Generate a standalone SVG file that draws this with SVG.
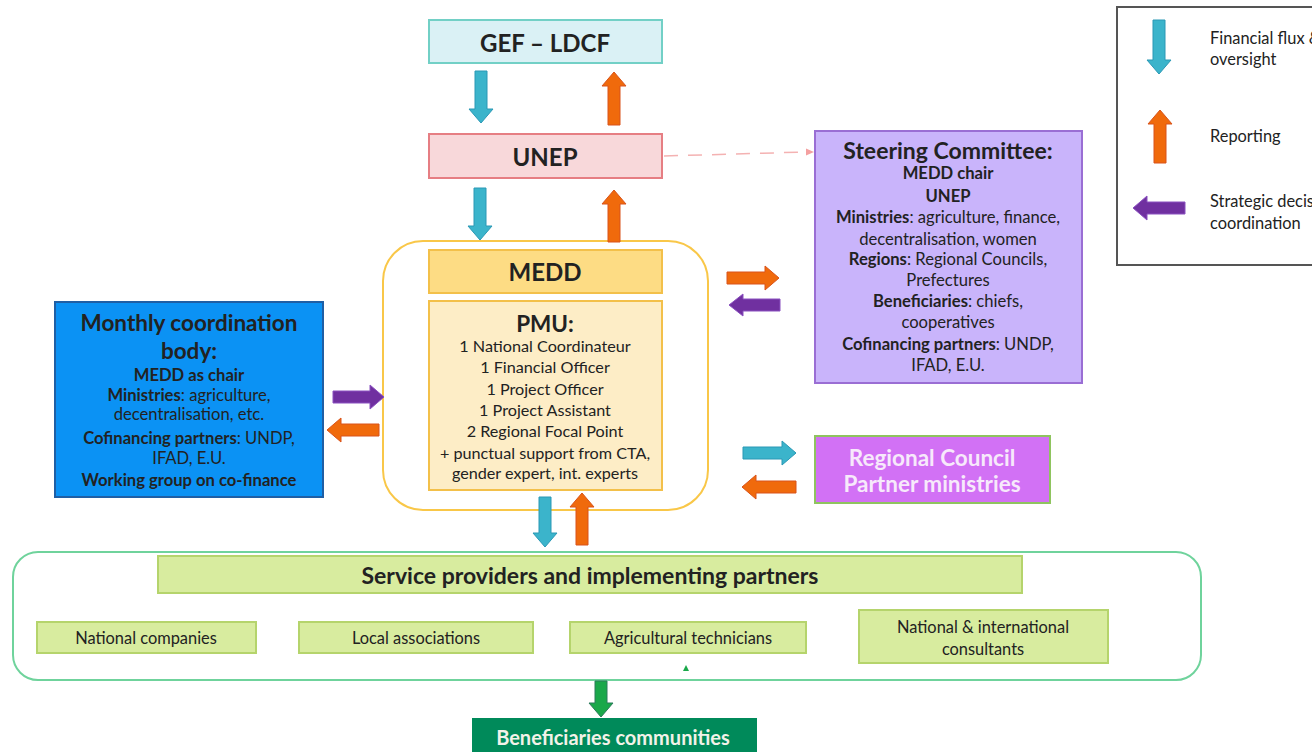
<svg xmlns="http://www.w3.org/2000/svg" width="1312" height="752" viewBox="0 0 1312 752">
<style>
text{font-family:Lato,"Liberation Sans",Arial,sans-serif;fill:#222;text-anchor:middle;dominant-baseline:central}
.b{font-weight:bold}
.h{font-size:24px;font-weight:bold}
.t22{font-size:22.5px;font-weight:bold}
.body{font-size:16.6px}
.pmu{font-size:16.2px}
.sm{font-size:16.4px}
.lg{font-size:16.4px;text-anchor:start}
.blue{fill:#3bb4cb;stroke:#2a98b5;stroke-width:1}
.orange{fill:#f06a0c;stroke:#d9531a;stroke-width:1}
.purple{fill:#7030a0;stroke:#8a50c0;stroke-width:1}
.green{fill:#1aa84a;stroke:#2a7a5a;stroke-width:1}
.sp{fill:#d8ec9f;stroke:#b5d46c;stroke-width:2}
</style>
<rect width="1312" height="752" fill="#ffffff"/>

<g id="legend">
<rect x="1117" y="7" width="210" height="258" fill="#ffffff" stroke="#555555" stroke-width="2"/>
<polygon class="blue" points="1153,20 1165,20 1165,60 1171,60 1159,74 1147,60 1153,60"/>
<polygon class="orange" points="1160,110 1172,124 1166,124 1166,163 1154,163 1154,124 1148,124"/>
<polygon class="purple" points="1133,208 1147,196 1147,202 1185,202 1185,214 1147,214 1147,220"/>
<text class="lg" x="1210" y="37">Financial flux &amp;</text>
<text class="lg" x="1210" y="58">oversight</text>
<text class="lg" x="1210" y="135">Reporting</text>
<text class="lg" x="1210" y="200">Strategic decision &amp;</text>
<text class="lg" x="1210" y="222">coordination</text>
</g>

<g id="gef">
<rect x="429" y="20" width="233" height="43" fill="#daf1f5" stroke="#72d0c6" stroke-width="2"/>
<text class="h" x="545" y="42">GEF – LDCF</text>
</g>

<g id="unep">
<rect x="429" y="134" width="233" height="44" fill="#f8d8da" stroke="#e67e83" stroke-width="2"/>
<text class="h" x="545" y="156">UNEP</text>
</g>

<g id="steering">
<rect x="815" y="131" width="267" height="252" fill="#c9b4fb" stroke="#9a6ed4" stroke-width="2"/>
<text class="t22" x="948" y="150" style="font-size:23px">Steering Committee:</text>
<text class="body b" x="948" y="173">MEDD chair</text>
<text class="body b" x="948" y="196">UNEP</text>
<text class="body" x="948" y="217"><tspan class="b">Ministries</tspan>: agriculture, finance,</text>
<text class="body" x="948" y="239">decentralisation, women</text>
<text class="body" x="948" y="259"><tspan class="b">Regions</tspan>: Regional Councils,</text>
<text class="body" x="948" y="280">Prefectures</text>
<text class="body" x="948" y="301"><tspan class="b">Beneficiaries</tspan>: chiefs,</text>
<text class="body" x="948" y="322">cooperatives</text>
<text class="body" x="948" y="344"><tspan class="b">Cofinancing partners</tspan>: UNDP,</text>
<text class="body" x="948" y="365">IFAD, E.U.</text>
</g>

<g id="medd-container">
<rect x="383" y="241" width="325" height="269" rx="40" ry="40" fill="#ffffff" stroke="#f9c748" stroke-width="2"/>
</g>

<g id="medd">
<rect x="429" y="250" width="233" height="43" fill="#fddc84" stroke="#f3c04a" stroke-width="2"/>
<text class="h" x="545" y="271">MEDD</text>
</g>

<g id="pmu">
<rect x="429" y="301" width="233" height="189" fill="#fdedc6" stroke="#f3c04a" stroke-width="2"/>
<text class="t22" x="545" y="323">PMU:</text>
<text class="pmu" x="545" y="345">1 National Coordinateur</text>
<text class="pmu" x="545" y="366">1 Financial Officer</text>
<text class="pmu" x="545" y="388">1 Project Officer</text>
<text class="pmu" x="545" y="409">1 Project Assistant</text>
<text class="pmu" x="545" y="430">2 Regional Focal Point</text>
<text class="pmu" x="545" y="452">+ punctual support from CTA,</text>
<text class="pmu" x="545" y="472">gender expert, int. experts</text>
</g>

<g id="monthly">
<rect x="55" y="302" width="268" height="195" fill="#0b92f4" stroke="#1f5fa5" stroke-width="2"/>
<text class="t22" x="189" y="322">Monthly coordination</text>
<text class="t22" x="189" y="350">body:</text>
<text class="body b" x="189" y="375">MEDD as chair</text>
<text class="body" x="189" y="395"><tspan class="b">Ministries</tspan>: agriculture,</text>
<text class="body" x="189" y="414">decentralisation, etc.</text>
<text class="body" x="189" y="438"><tspan class="b">Cofinancing partners</tspan>: UNDP,</text>
<text class="body" x="189" y="458">IFAD, E.U.</text>
<text class="body b" x="189" y="480">Working group on co-finance</text>
</g>

<g id="regional">
<rect x="815" y="436" width="235" height="67" fill="#d271f5" stroke="#8fc45f" stroke-width="2"/>
<text class="t22" x="932" y="457" style="fill:#f7e9fb">Regional Council</text>
<text class="t22" x="932" y="483" style="fill:#f7e9fb">Partner ministries</text>
</g>

<g id="service">
<rect x="13" y="552" width="1188" height="128" rx="25" ry="25" fill="#ffffff" stroke="#6fd39c" stroke-width="2"/>
<rect class="sp" x="158" y="556" width="864" height="37"/>
<text class="t22" x="590" y="575" style="font-size:23px">Service providers and implementing partners</text>
<rect class="sp" x="37" y="622" width="219" height="31"/>
<text class="sm" x="146" y="637">National companies</text>
<rect class="sp" x="299" y="622" width="234" height="31"/>
<text class="sm" x="416" y="637">Local associations</text>
<rect class="sp" x="570" y="622" width="236" height="31"/>
<text class="sm" x="688" y="637">Agricultural technicians</text>
<rect class="sp" x="859" y="610" width="249" height="53"/>
<text class="sm" x="983" y="626">National &amp; international</text>
<text class="sm" x="983" y="648">consultants</text>
<polygon points="686,665 689,671 683,671" fill="#1aa84a"/>
</g>

<g id="beneficiaries">
<rect x="472" y="718" width="285" height="40" fill="#008a5a"/>
<text class="b" x="613" y="737" style="font-size:20px;fill:#f2f2e8">Beneficiaries communities</text>
</g>

<g id="connectors">
<polygon class="blue" points="475,71 487,71 487,109 493,109 481,123 469,109 475,109"/>
<polygon class="orange" points="614,72 626,86 620,86 620,125 608,125 608,86 602,86"/>
<polygon class="blue" points="474,188 486,188 486,226 492,226 480,240 468,226 474,226"/>
<polygon class="orange" points="614,190 626,204 620,204 620,242 608,242 608,204 602,204"/>
<line x1="664" y1="156" x2="806" y2="152" stroke="#f4b2b2" stroke-width="1.5" stroke-dasharray="14 10"/>
<polygon points="814,152 806,148.5 806,155.5" fill="#f4a0a0"/>
<polygon class="orange" points="727,272 765,272 765,266 779,278 765,290 765,284 727,284"/>
<polygon class="purple" points="729,305 743,294 743,299 780,299 780,311 743,311 743,316"/>
<polygon class="purple" points="333,391 370,391 370,385 384,397 370,409 370,403 333,403"/>
<polygon class="orange" points="327,430 341,418 341,424 379,424 379,436 341,436 341,442"/>
<polygon class="blue" points="743,447 782,447 782,441 796,453 782,465 782,459 743,459"/>
<polygon class="orange" points="742,487 756,475 756,481 796,481 796,493 756,493 756,499"/>
<polygon class="blue" points="539,497 551,497 551,533 557,533 545,547 533,533 539,533"/>
<polygon class="orange" points="582,493 594,507 588,507 588,545 576,545 576,507 570,507"/>
<polygon class="green" points="595,681 607,681 607,703 613,703 601,717 589,703 595,703"/>
</g>
</svg>
